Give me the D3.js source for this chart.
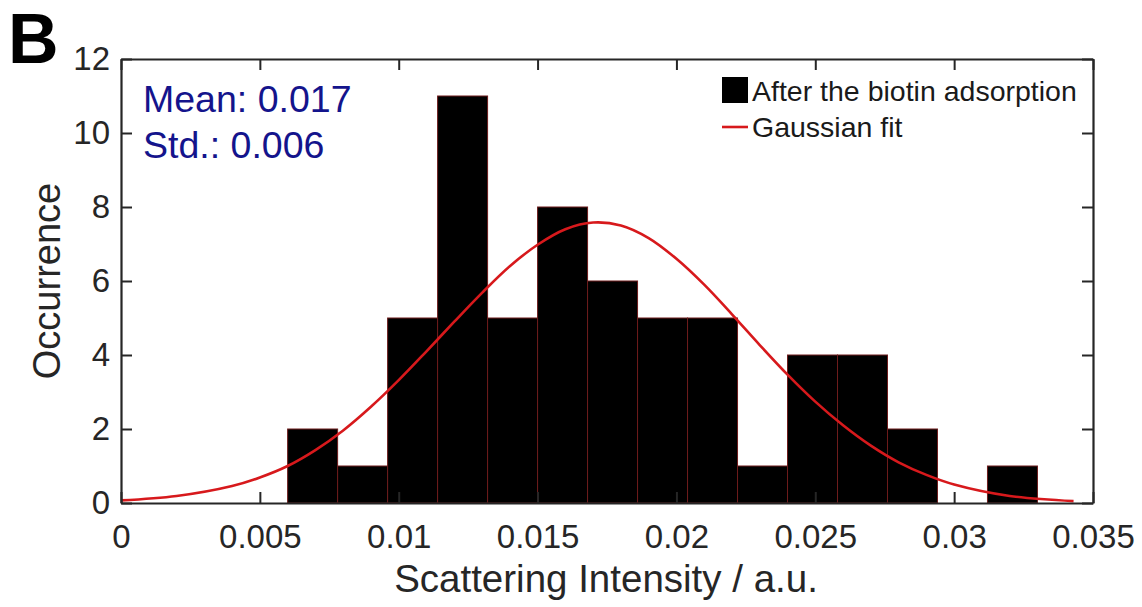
<!DOCTYPE html>
<html>
<head>
<meta charset="utf-8">
<script src="https://cdn.jsdelivr.net/npm/d3@7"></script>
<style>
  body { margin: 0; background: #fff; }
  svg { display: block; font-family: Arial, 'Liberation Sans', Helvetica, sans-serif; }
</style>
</head>
<body>
<div class="container"></div>
<script>
// histogram bins (left edges + last right edge) and counts
const binEdges = [0.006, 0.0078, 0.0096, 0.0114, 0.0132, 0.015, 0.0168, 0.0186, 0.0204, 0.0222, 0.024, 0.0258, 0.0276, 0.0294, 0.0312, 0.033];
const counts = [2, 1, 5, 11, 5, 8, 6, 5, 5, 1, 4, 4, 2, 0, 1];

// gaussian fit curve
const fitX = [0, 0.002, 0.004, 0.005, 0.006, 0.007, 0.008, 0.009, 0.01, 0.011, 0.012, 0.013, 0.014, 0.015, 0.016, 0.017, 0.018, 0.019, 0.02, 0.021, 0.022, 0.023, 0.024, 0.025, 0.026, 0.027, 0.028, 0.029, 0.03, 0.032, 0.0343];
const fitY = [0.07, 0.19, 0.46, 0.69, 1.0, 1.43, 1.96, 2.6, 3.32, 4.1, 4.9, 5.68, 6.4, 6.98, 7.4, 7.58, 7.5, 7.16, 6.6, 5.9, 5.1, 4.27, 3.47, 2.74, 2.1, 1.55, 1.1, 0.76, 0.5, 0.19, 0.05];

const xTicks = [0, 0.005, 0.01, 0.015, 0.02, 0.025, 0.03, 0.035];
const yTicks = [0, 2, 4, 6, 8, 10, 12];
const statsLines = ['Mean: 0.017', 'Std.: 0.006'];
const legendLabels = ['After the biotin adsorption', 'Gaussian fit'];

const render = () => {
  const width = 1142;
  const height = 607;
  const margin = { top: 59, right: 49, bottom: 104, left: 121 };
  const chartWidth = width - margin.left - margin.right;
  const chartHeight = height - margin.top - margin.bottom;
  const axisColor = '#262626';

  const svg = d3.select('.container').append('svg').attr('width', width).attr('height', height);
  const chart = svg.append('g').attr('class', 'chart').attr('transform', `translate(${margin.left},${margin.top})`);

  const xScale = d3.scaleLinear().domain([0, 0.035]).range([0, chartWidth]);
  const yScale = d3.scaleLinear().domain([0, 12]).range([chartHeight, 0]);

  // bars
  const bins = counts.map((c, i) => ({ x0: binEdges[i], x1: binEdges[i + 1], count: c }));
  chart
    .append('g')
    .attr('class', 'bars')
    .selectAll('rect')
    .data(bins)
    .enter()
    .append('rect')
    .attr('x', d => xScale(d.x0))
    .attr('width', d => xScale(d.x1) - xScale(d.x0))
    .attr('y', d => yScale(d.count))
    .attr('height', d => yScale(0) - yScale(d.count))
    .attr('fill', '#000')
    .attr('stroke', '#6e1c1c')
    .attr('stroke-width', 1);

  // fit line
  const line = d3
    .line()
    .x((d, i) => xScale(fitX[i]))
    .y(d => yScale(d))
    .curve(d3.curveCatmullRom.alpha(0.5));

  chart
    .append('path')
    .attr('d', line(fitY))
    .attr('fill', 'none')
    .attr('stroke', '#d7191c')
    .attr('stroke-width', 2.6);

  // axes, ticks pointing inward
  const styleAxis = g => {
    g.select('.domain').attr('stroke', axisColor).attr('stroke-width', 2.2);
    g.selectAll('.tick line').attr('stroke', axisColor).attr('stroke-width', 2);
    g.selectAll('.tick text').attr('fill', axisColor).attr('font-size', 33).attr('font-family', null);
  };

  const bottomAxis = d3
    .axisBottom(xScale)
    .tickValues(xTicks)
    .tickFormat(d => +d.toFixed(3))
    .tickSizeInner(-11)
    .tickSizeOuter(0)
    .tickPadding(22);
  chart.append('g').attr('transform', `translate(0,${chartHeight})`).call(bottomAxis).call(styleAxis);

  const topAxis = d3.axisTop(xScale).tickValues(xTicks).tickFormat('').tickSizeInner(-11).tickSizeOuter(0);
  chart.append('g').call(topAxis).call(styleAxis);

  const leftAxis = d3.axisLeft(yScale).tickValues(yTicks).tickSizeInner(-11).tickSizeOuter(0).tickPadding(11);
  chart.append('g').call(leftAxis).call(styleAxis);

  const rightAxis = d3.axisRight(yScale).tickValues(yTicks).tickFormat('').tickSizeInner(-11).tickSizeOuter(0);
  chart.append('g').attr('transform', `translate(${chartWidth},0)`).call(rightAxis).call(styleAxis);

  // axis titles
  svg
    .append('text')
    .text('Scattering Intensity / a.u.')
    .attr('x', 606)
    .attr('y', 592)
    .attr('text-anchor', 'middle')
    .attr('font-size', 38.5)
    .attr('fill', axisColor);

  svg
    .append('text')
    .text('Occurrence')
    .attr('transform', `translate(60,${margin.top + chartHeight / 2}) rotate(-90)`)
    .attr('text-anchor', 'middle')
    .attr('font-size', 38)
    .attr('fill', axisColor);

  // panel letter
  svg.append('text').text('B').attr('x', 8).attr('y', 63).attr('font-size', 70).attr('font-weight', 'bold').attr('fill', '#000');

  // stats annotation
  svg
    .append('g')
    .selectAll('text')
    .data(statsLines)
    .enter()
    .append('text')
    .text(d => d)
    .attr('x', 143)
    .attr('y', (d, i) => 112 + i * 46)
    .attr('font-size', 37.5)
    .attr('fill', '#14148c');

  // legend
  const legend = svg.append('g').attr('transform', 'translate(722,0)');
  legend.append('rect').attr('x', 0).attr('y', 77).attr('width', 26).attr('height', 26).attr('fill', '#000');
  legend.append('line').attr('x1', 0).attr('x2', 26).attr('y1', 127).attr('y2', 127).attr('stroke', '#d7191c').attr('stroke-width', 2.6);
  legend
    .selectAll('text.lbl')
    .data(legendLabels)
    .enter()
    .append('text')
    .attr('class', 'lbl')
    .text(d => d)
    .attr('x', 30)
    .attr('y', (d, i) => 101 + i * 36)
    .attr('font-size', 28.5)
    .attr('fill', '#1a1a1a');
};

render();
</script>
</body>
</html>
